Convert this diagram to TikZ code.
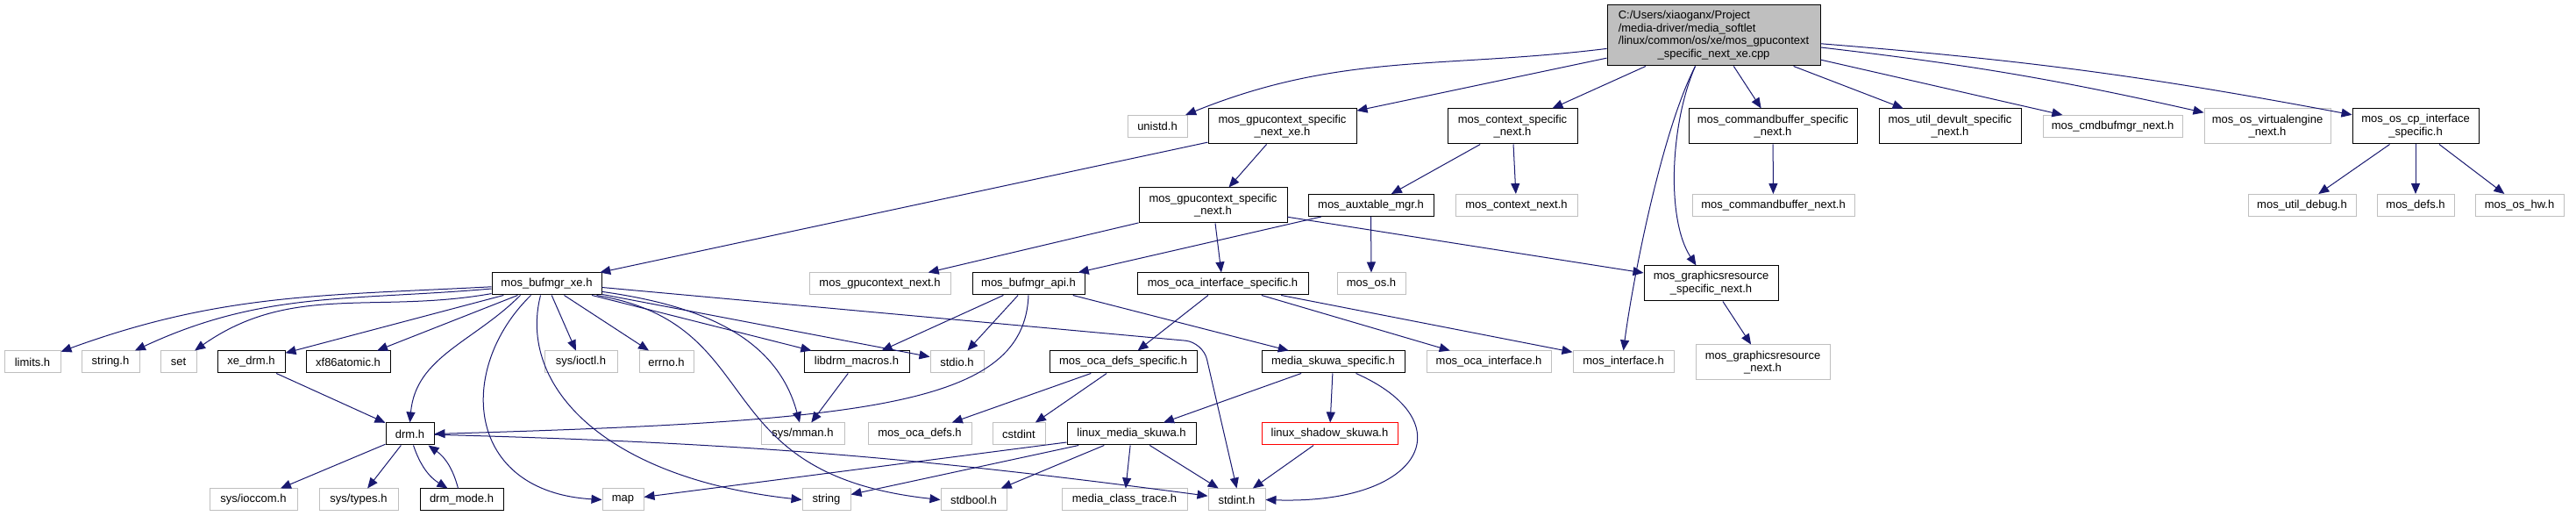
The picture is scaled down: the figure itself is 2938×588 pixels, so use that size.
\documentclass[tikz,border=0pt]{standalone}
\usepackage{fontspec}
\setmainfont{Liberation Sans}
\usetikzlibrary{arrows.meta}
\definecolor{edgeblue}{HTML}{191970}
\definecolor{greyb}{HTML}{BFBFBF}
\begin{document}
\begin{tikzpicture}[x=1pt,y=1pt,
  box/.style={rectangle, inner sep=0pt, minimum height=25pt, align=center,
    font=\fontsize{13}{14.8}\selectfont, line width=1pt, fill=white},
  doc/.style={box, draw=black},
  ext/.style={box, draw=greyb},
  trunc/.style={box, draw=red},
  two/.style={minimum height=40pt},
  dep/.style={draw=edgeblue, line width=1pt, -{Triangle[length=12pt,width=10pt]}}]
\fill[white] (0,0) rectangle (2938,588);
\useasboundingbox (0,0) rectangle (2938,588);

% main
\node[doc, fill=greyb, minimum width=243pt, minimum height=69pt] (main) at (1954.5,547.5)
  {\begin{tabular}{@{}l@{}}C:/Users/xiaoganx/Project\\/media-driver/media\_softlet\\/linux/common/os/xe/mos\_gpucontext\\\multicolumn{1}{@{}c@{}}{\_specific\_next\_xe.cpp}\end{tabular}};

% row 1
\node[ext, minimum width=68pt] (unistd) at (1320,444) {unistd.h};
\node[doc, two, minimum width=169pt] (gpuxe) at (1462.5,444) {mos\_gpucontext\_specific\\\_next\_xe.h};
\node[doc, two, minimum width=148pt] (ctxspec) at (1725,444) {mos\_context\_specific\\\_next.h};
\node[doc, two, minimum width=192pt] (cbspec) at (2022,444) {mos\_commandbuffer\_specific\\\_next.h};
\node[doc, two, minimum width=162pt] (devult) at (2224,444) {mos\_util\_devult\_specific\\\_next.h};
\node[ext, minimum width=159pt] (cbmgr) at (2409.5,444) {mos\_cmdbufmgr\_next.h};
\node[ext, two, minimum width=144pt] (ve) at (2586,444) {mos\_os\_virtualengine\\\_next.h};
\node[doc, two, minimum width=144pt] (cp) at (2755,444) {mos\_os\_cp\_interface\\\_specific.h};

% row 2
\node[doc, two, minimum width=169pt] (gpunext) at (1383.5,354) {mos\_gpucontext\_specific\\\_next.h};
\node[doc, minimum width=143pt] (aux) at (1563.5,354) {mos\_auxtable\_mgr.h};
\node[ext, minimum width=139pt] (ctxnext) at (1729.5,354) {mos\_context\_next.h};
\node[ext, minimum width=185pt] (cbnext) at (2022.5,354) {mos\_commandbuffer\_next.h};
\node[ext, minimum width=123pt] (dbg) at (2625.5,354) {mos\_util\_debug.h};
\node[ext, minimum width=88pt] (defs) at (2755,354) {mos\_defs.h};
\node[ext, minimum width=101pt] (hw) at (2873.5,354) {mos\_os\_hw.h};

% row 3
\node[doc, minimum width=125pt] (bxe) at (623.5,264.5) {mos\_bufmgr\_xe.h};
\node[ext, minimum width=161pt] (gpucnext) at (1003.5,264.5) {mos\_gpucontext\_next.h};
\node[doc, minimum width=128pt] (api) at (1173,264.5) {mos\_bufmgr\_api.h};
\node[doc, minimum width=195pt] (ocaspec) at (1394.5,264.5) {mos\_oca\_interface\_specific.h};
\node[ext, minimum width=78pt] (os) at (1564,264.5) {mos\_os.h};
\node[doc, two, minimum width=153pt] (grspec) at (1951.5,265) {mos\_graphicsresource\\\_specific\_next.h};

% row 4
\node[ext, minimum width=64pt] (limits) at (37,175.5) {limits.h};
\node[ext, minimum width=66pt] (stringh) at (126,175.5) {string.h};
\node[ext, minimum width=41pt] (set) at (203.5,175.5) {set};
\node[doc, minimum width=77pt] (xedrm) at (286.5,175.5) {xe\_drm.h};
\node[doc, minimum width=96pt] (xf86) at (397,175.5) {xf86atomic.h};
\node[ext, minimum width=83pt] (ioctl) at (662.5,175.5) {sys/ioctl.h};
\node[ext, minimum width=62pt] (errno) at (760,175.5) {errno.h};
\node[doc, minimum width=120pt] (libdrm) at (977,175.5) {libdrm\_macros.h};
\node[ext, minimum width=61pt] (stdio) at (1091.5,175.5) {stdio.h};
\node[doc, minimum width=168pt] (ocadefsspec) at (1281,175.5) {mos\_oca\_defs\_specific.h};
\node[doc, minimum width=163pt] (skuwaspec) at (1520.5,175.5) {media\_skuwa\_specific.h};
\node[ext, minimum width=142pt] (ocaif) at (1698,175.5) {mos\_oca\_interface.h};
\node[ext, minimum width=115pt] (mosif) at (1851.5,175.5) {mos\_interface.h};
\node[ext, two, minimum width=153pt] (grnext) at (2010.5,175) {mos\_graphicsresource\\\_next.h};

% row 5
\node[doc, minimum width=55pt] (drmh) at (467.5,93.5) {drm.h};
\node[ext, minimum width=95pt] (sysmman) at (915.5,93.5) {sys/mman.h};
\node[ext, minimum width=118pt] (ocadefs) at (1049,93.5) {mos\_oca\_defs.h};
\node[ext, minimum width=60pt] (cstdint) at (1162,93.5) {cstdint};
\node[doc, minimum width=147pt] (lms) at (1290.5,93.5) {linux\_media\_skuwa.h};
\node[trunc, minimum width=155pt] (lss) at (1516.5,93.5) {linux\_shadow\_skuwa.h};

% row 6
\node[ext, minimum width=100pt] (ioccom) at (289,18.5) {sys/ioccom.h};
\node[ext, minimum width=90pt] (systypes) at (409,18.5) {sys/types.h};
\node[doc, minimum width=95pt] (drmmode) at (526.5,18.5) {drm\_mode.h};
\node[ext, minimum width=47pt] (map) at (710.5,18.5) {map};
\node[ext, minimum width=55pt] (string) at (942.5,18.5) {string};
\node[ext, minimum width=75pt] (stdbool) at (1110.5,18.5) {stdbool.h};
\node[ext, minimum width=143pt] (mct) at (1282.5,18.5) {media\_class\_trace.h};
\node[ext, minimum width=65pt] (stdint) at (1410.5,18.5) {stdint.h};

% edges from main
\draw[dep] (main) to[out=187,in=22] (unistd);
\draw[dep] (main) -- (gpuxe);
\draw[dep] (main) -- (ctxspec);
\draw[dep] ([xshift=-21pt]main.south) .. controls (1895,438) and (1862,268) .. (mosif.north);
\draw[dep] ([xshift=-21pt]main.south) .. controls (1905,448) and (1900,338) .. ([xshift=-17pt]grspec.north);
\draw[dep] (main) -- (cbspec);
\draw[dep] (main) -- (devult);
\draw[dep] (main) -- (cbmgr);
\draw[dep] (main) to[bend left=3] (ve);
\draw[dep] (main) to[bend left=3] (cp);

% second level
\draw[dep] (gpuxe) -- (bxe);
\draw[dep] (gpuxe) -- (gpunext);
\draw[dep] (ctxspec) -- (aux);
\draw[dep] (ctxspec) -- (ctxnext);
\draw[dep] (aux) -- (api);
\draw[dep] (aux) -- (os);
\draw[dep] (cbspec) -- (cbnext);
\draw[dep] (cp) -- (dbg);
\draw[dep] (cp) -- (defs);
\draw[dep] (cp) -- (hw);
\draw[dep] (gpunext) -- (gpucnext);
\draw[dep] (gpunext) -- (ocaspec);
\draw[dep] (gpunext) -- (grspec);
\draw[dep] (grspec) -- (grnext);

% mos_bufmgr_xe.h
\draw[dep] (bxe) to[out=183,in=20] (limits);
\draw[dep] (bxe) to[out=185,in=25] (stringh);
\draw[dep] (bxe) to[out=190,in=35] (set);
\draw[dep] (bxe) -- (xedrm);
\draw[dep] (bxe) -- (xf86);
\draw[dep] ([xshift=-30pt]bxe.south) to[out=225,in=85] (drmh.north);
\draw[dep] ([xshift=-18pt]bxe.south) .. controls (520,168) and (530,28) .. (map.west);
\draw[dep] ([xshift=-7pt]bxe.south) .. controls (590,148) and (690,43) .. (string.west);
\draw[dep] (bxe) -- (ioctl);
\draw[dep] (bxe) -- (errno);
\draw[dep] (bxe) -- (libdrm);
\draw[dep] (bxe) -- (stdio);
\draw[dep] (bxe) to[out=-8,in=105] (sysmman);
\draw[dep] ([xshift=57pt]bxe.south) .. controls (880,218) and (800,48) .. (stdbool.west);
\coordinate (bendA) at (1372,198);
\draw[dep, rounded corners=20pt] ([yshift=-4pt]bxe.east) -- (bendA) -- (stdint.north);

% mos_bufmgr_api.h
\draw[dep] (api) -- (libdrm);
\draw[dep] (api) -- (stdio);
\draw[dep] (api.south) .. controls (1168,128) and (1000,108) .. (drmh.east);
\draw[dep] (api) -- (skuwaspec);

% oca
\draw[dep] (ocaspec) -- (ocadefsspec);
\draw[dep] (ocaspec) -- (ocaif);
\draw[dep] (ocaspec) -- (mosif);
\draw[dep] (ocadefsspec) -- (ocadefs);
\draw[dep] (ocadefsspec) -- (cstdint);

% skuwa
\draw[dep] (skuwaspec) -- (lms);
\draw[dep] (skuwaspec) -- (lss);
\draw[dep] ([xshift=26pt]skuwaspec.south) .. controls (1670,108) and (1625,13) .. (stdint.east);
\draw[dep] (lms) -- (map);
\draw[dep] (lms) -- (string);
\draw[dep] (lms) -- (stdbool);
\draw[dep] (lms) -- (mct);
\draw[dep] (lms) -- (stdint);
\draw[dep] (lss) -- (stdint);

% drm
\draw[dep] (libdrm) -- (sysmman);
\draw[dep] (xedrm) -- (drmh);
\draw[dep] (drmh) -- (ioccom);
\draw[dep] (drmh) -- (systypes);
\draw[dep] ([xshift=4pt]drmh.south) to[bend right=20] ([xshift=-16pt]drmmode.north);
\draw[dep] ([xshift=-4pt]drmmode.north) to[bend right=20] ([xshift=21pt]drmh.south);
\draw[dep] (drmh) to[bend left=3] (stdint);
\end{tikzpicture}
\end{document}
